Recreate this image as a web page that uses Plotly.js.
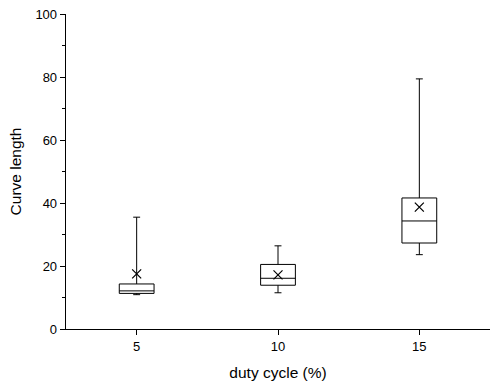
<!DOCTYPE html>
<html><head><meta charset="utf-8">
<script src="https://cdn.plot.ly/plotly-3.0.1.min.js"></script>
<style>html,body{margin:0;padding:0;background:#fff}#chart{width:492px;height:383px}</style>
</head><body><div id="chart"></div>
<script>
const categories = [5, 10, 15];
const lowerWhisker = [10.9, 11.5, 23.6];
const q1 = [11.3, 13.9, 27.3];
const median = [12.1, 16.1, 34.3];
const q3 = [14.3, 20.5, 41.6];
const upperWhisker = [35.5, 26.4, 79.4];
const means = [17.5, 17.2, 38.7];
const yTicks = [0, 20, 40, 60, 80, 100];

const traces = [{
  type: 'box',
  x: categories,
  q1: q1, median: median, q3: q3,
  lowerfence: lowerWhisker, upperfence: upperWhisker,
  width: 1.23,
  whiskerwidth: 0.2,
  fillcolor: '#ffffff',
  line: {color: '#000000', width: 1},
  boxpoints: false,
  hoverinfo: 'skip',
  showlegend: false
}, {
  type: 'scatter', mode: 'markers',
  x: categories, y: means,
  marker: {symbol: 'x-thin', size: 9, line: {color: '#000000', width: 1.2}},
  hoverinfo: 'skip', showlegend: false
}];

const font = {family: 'Liberation Sans, Arial, sans-serif', color: '#000'};
const layout = {
  width: 492, height: 383,
  margin: {l: 66, r: 2, t: 14, b: 54},
  paper_bgcolor: '#fff', plot_bgcolor: '#fff',
  font: Object.assign({size: 13}, font),
  xaxis: {
    range: [2.5, 17.5], tickvals: categories, ticktext: categories.map(String),
    showgrid: false, zeroline: false, showline: true, linecolor: '#000', linewidth: 1.3,
    ticks: 'outside', ticklen: 5, tickwidth: 1, tickcolor: '#000',
    tickfont: Object.assign({size: 13}, font),
    title: {text: 'duty cycle (%)', font: Object.assign({size: 15.5}, font), standoff: 14}
  },
  yaxis: {
    range: [0, 100], tickvals: yTicks,
    showgrid: false, zeroline: false, showline: true, linecolor: '#000', linewidth: 1.3,
    ticks: 'outside', ticklen: 5, tickwidth: 1, tickcolor: '#000',
    minor: {dtick: 10, tick0: 0, ticks: 'outside', ticklen: 3, tickwidth: 1, tickcolor: '#000', showgrid: false},
    tickfont: Object.assign({size: 13}, font),
    title: {text: 'Curve length', font: Object.assign({size: 15.5}, font), standoff: 10}
  }
};
Plotly.newPlot('chart', traces, layout, {staticPlot: true, displayModeBar: false});
</script></body></html>
